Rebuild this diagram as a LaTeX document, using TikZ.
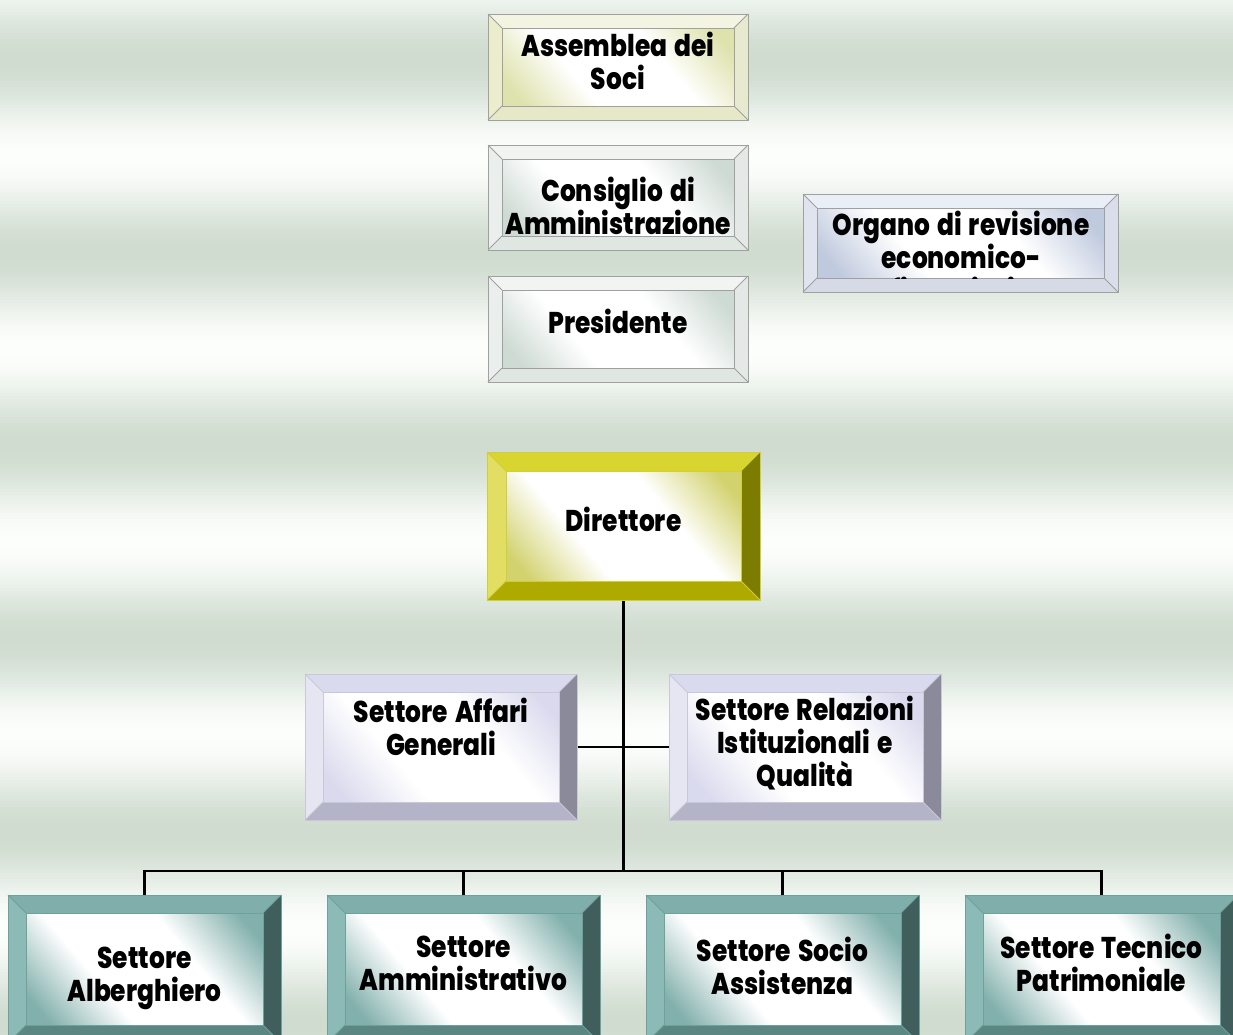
\documentclass[tikz,border=0pt]{standalone}
\usepackage{fontspec}
\usetikzlibrary{calc}
\newfontfamily\boxfont{Poppins}[FakeStretch=0.83, WordSpace=1.5, BoldFont={Poppins ExtraBold}]

% background stripes
\definecolor{bgdark}{RGB}{208,220,208}
\definecolor{bglight}{RGB}{252,254,252}
% top boxes
\definecolor{asTop}{RGB}{244,244,226}\definecolor{asLeft}{RGB}{236,237,204}
\definecolor{asRight}{RGB}{232,234,208}\definecolor{asBot}{RGB}{230,232,198}
\definecolor{asFace}{RGB}{222,226,172}
\definecolor{cgTop}{RGB}{242,244,242}\definecolor{cgLeft}{RGB}{234,238,236}
\definecolor{cgRight}{RGB}{228,232,230}\definecolor{cgBot}{RGB}{224,230,226}
\definecolor{cgFace}{RGB}{206,218,212}
\definecolor{orTop}{RGB}{234,238,246}\definecolor{orLeft}{RGB}{224,228,238}
\definecolor{orRight}{RGB}{218,222,234}\definecolor{orBot}{RGB}{214,218,230}
\definecolor{orFace}{RGB}{192,202,222}
\definecolor{edgeGray}{RGB}{160,160,160}
% director
\definecolor{drTop}{RGB}{216,212,48}\definecolor{drLeft}{RGB}{226,222,100}
\definecolor{drRight}{RGB}{124,124,0}\definecolor{drBot}{RGB}{174,170,0}
\definecolor{drFace}{RGB}{210,210,110}\definecolor{drEdge}{RGB}{208,206,60}
% staff sectors
\definecolor{stTop}{RGB}{218,218,238}\definecolor{stLeft}{RGB}{230,230,242}
\definecolor{stRight}{RGB}{138,138,154}\definecolor{stBot}{RGB}{180,180,200}
\definecolor{stFace}{RGB}{218,218,238}\definecolor{stEdge}{RGB}{200,200,215}
% operating sectors
\definecolor{opTop}{RGB}{128,174,170}\definecolor{opLeft}{RGB}{140,186,182}
\definecolor{opRight}{RGB}{64,94,92}\definecolor{opBot}{RGB}{92,134,130}
\definecolor{opFace}{RGB}{130,176,172}\definecolor{opEdge}{RGB}{110,160,156}

% face shadings: tinted corners, broad white band across the middle
\newcommand\faceshading[2]{%
  \pgfdeclarehorizontalshading{#1}{100bp}{color(0bp)=(#2); color(20bp)=(#2);
    color(38bp)=(white); color(62bp)=(white); color(80bp)=(#2); color(100bp)=(#2)}}
\faceshading{asShade}{asFace}
\faceshading{cgShade}{cgFace}
\faceshading{orShade}{orFace}
\faceshading{drShade}{drFace}
\faceshading{stShade}{stFace}
\faceshading{opShade}{opFace}

% #1 node, #2 bevel depth, #3 top, #4 left, #5 right, #6 bottom, #7 face shading, #8 edge
\newcommand\bevelbox[8]{%
  \fill[#3] (#1.north west) -- (#1.north east) -- ([shift={(-#2,-#2)}]#1.north east) -- ([shift={(#2,-#2)}]#1.north west) -- cycle;
  \fill[#4] (#1.north west) -- ([shift={(#2,-#2)}]#1.north west) -- ([shift={(#2,#2)}]#1.south west) -- (#1.south west) -- cycle;
  \fill[#5] (#1.north east) -- (#1.south east) -- ([shift={(-#2,#2)}]#1.south east) -- ([shift={(-#2,-#2)}]#1.north east) -- cycle;
  \fill[#6] (#1.south west) -- ([shift={(#2,#2)}]#1.south west) -- ([shift={(-#2,#2)}]#1.south east) -- (#1.south east) -- cycle;
  \shade[shading=#7, shading angle=40]
    ([shift={(#2,-#2)}]#1.north west) rectangle ([shift={(-#2,#2)}]#1.south east);
  \draw[#8, line width=1pt] ([shift={(#2,-#2)}]#1.north west) rectangle ([shift={(-#2,#2)}]#1.south east);
  \draw[#8, line width=1pt] (#1.north west) -- ([shift={(#2,-#2)}]#1.north west)
    (#1.north east) -- ([shift={(-#2,-#2)}]#1.north east)
    (#1.south west) -- ([shift={(#2,#2)}]#1.south west)
    (#1.south east) -- ([shift={(-#2,#2)}]#1.south east);
  \draw[#8, line width=1pt] (#1.north west) rectangle (#1.south east);
}

\tikzset{
  box/.style={rectangle, draw=none, inner sep=0pt, outer sep=0pt},
  lbl/.style={align=center, text=black, inner sep=0pt,
    font=\boxfont\bfseries\fontsize{30}{33}\selectfont},
  link/.style={draw=black, line width=2.6pt},
}

\begin{document}
\begin{tikzpicture}[x=1pt, y=1pt]
\useasboundingbox (0,0) rectangle (1233,-1034);
\clip (0,0) rectangle (1233,-1034);

% striped background
\foreach \i in {0,...,344} {
  \pgfmathsetmacro\t{50+50*cos((\i*3+1.5-60)/193*360)}
  \fill[bgdark!\t!bglight] (0,-\i*3) rectangle (1233,-\i*3-3.4);
}

% governing bodies
\node[box, minimum width=260pt, minimum height=106pt] (assemblea) at (618,-67) {};
\node[box, minimum width=260pt, minimum height=105pt] (consiglio) at (618,-197.5) {};
\node[box, minimum width=260pt, minimum height=106pt] (presidente) at (618,-329) {};
\node[box, minimum width=315pt, minimum height=98pt] (organo) at (960.5,-243) {};
\bevelbox{assemblea}{14}{asTop}{asLeft}{asRight}{asBot}{asShade}{edgeGray}
\bevelbox{consiglio}{14}{cgTop}{cgLeft}{cgRight}{cgBot}{cgShade}{edgeGray}
\bevelbox{presidente}{14}{cgTop}{cgLeft}{cgRight}{cgBot}{cgShade}{edgeGray}
\bevelbox{organo}{14}{orTop}{orLeft}{orRight}{orBot}{orShade}{edgeGray}

% management
\node[box, minimum width=273pt, minimum height=148pt] (direttore) at (623.5,-526) {};
\node[box, minimum width=272pt, minimum height=146pt] (affari) at (441,-747) {};
\node[box, minimum width=272pt, minimum height=146pt] (relazioni) at (805,-747) {};
\coordinate (bus) at (623.5,-871);

% connectors
\draw[link] (direttore.south) -- (bus);
\draw[link] (affari.east) -- (relazioni.west);

\bevelbox{direttore}{19}{drTop}{drLeft}{drRight}{drBot}{drShade}{drEdge}
\bevelbox{affari}{18}{stTop}{stLeft}{stRight}{stBot}{stShade}{stEdge}
\bevelbox{relazioni}{18}{stTop}{stLeft}{stRight}{stBot}{stShade}{stEdge}

% operating sectors
\node[box, minimum width=273pt, minimum height=148pt] (alberghiero) at (144.5,-969) {};
\node[box, minimum width=273pt, minimum height=148pt] (amministrativo) at (463.5,-969) {};
\node[box, minimum width=273pt, minimum height=148pt] (socio) at (782.5,-969) {};
\node[box, minimum width=273pt, minimum height=148pt] (tecnico) at (1101.5,-969) {};

\draw[link] (alberghiero.north) |- (bus) -| (tecnico.north);
\draw[link] (amministrativo.north) -- (amministrativo.north |- bus);
\draw[link] (socio.north) -- (socio.north |- bus);

\bevelbox{alberghiero}{18}{opTop}{opLeft}{opRight}{opBot}{opShade}{opEdge}
\bevelbox{amministrativo}{18}{opTop}{opLeft}{opRight}{opBot}{opShade}{opEdge}
\bevelbox{socio}{18}{opTop}{opLeft}{opRight}{opBot}{opShade}{opEdge}
\bevelbox{tecnico}{18}{opTop}{opLeft}{opRight}{opBot}{opShade}{opEdge}

% labels
\node[lbl] (assemblea-t) at (618,-61) {Assemblea dei\\Soci};
\node[lbl] (consiglio-t) at (618,-206) {Consiglio di\\Amministrazione};
\node[lbl] (presidente-t) at (618,-321) {Presidente};
\begin{scope}
  \clip ([shift={(14,-14)}]organo.north west) rectangle ([shift={(-14,14)}]organo.south east);
  \node[lbl] (organo-t) at (961,-256) {Organo di revisione\\economico-\\finanziario};
\end{scope}
\node[lbl] (direttore-t) at (623.5,-519) {Direttore};
\node[lbl] (affari-t) at (441,-727) {Settore Affari\\Generali};
\node[lbl] (relazioni-t) at (805,-743) {Settore Relazioni\\Istituzionali e\\Qualità};
\node[lbl] (alberghiero-t) at (144.5,-978) {Settore\\Alberghiero};
\node[lbl] (amministrativo-t) at (463.5,-963) {Settore\\Amministrativo};
\node[lbl] (socio-t) at (782.5,-966) {Settore Socio\\Assistenza};
\node[lbl] (tecnico-t) at (1101.5,-963) {Settore Tecnico\\Patrimoniale};
\end{tikzpicture}
\end{document}
